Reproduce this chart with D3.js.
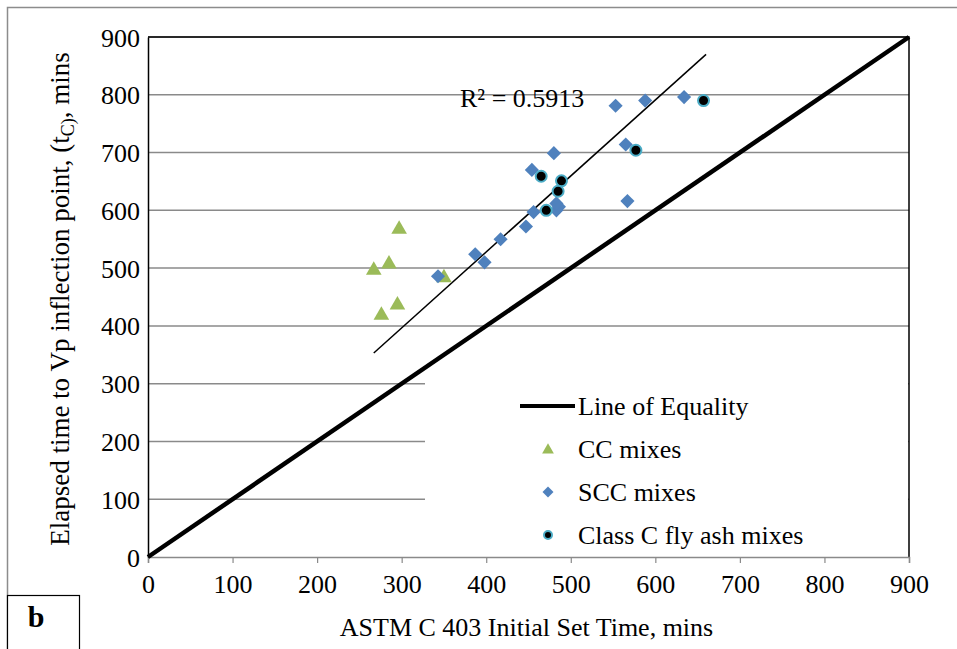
<!DOCTYPE html>
<html>
<head>
<meta charset="utf-8">
<script src="https://cdn.jsdelivr.net/npm/d3@7"></script>
<style>
  body { margin: 0; background: #fff; }
  svg text { font-family: "Liberation Serif", "Times New Roman", serif; }
</style>
</head>
<body>
<svg id="chart" width="957" height="649"></svg>
<script>
// values
var ccX = [267, 285, 297, 276, 295, 350];
var ccY = [498, 509, 569, 420, 438, 485];

var sccX = [343, 387, 398, 417, 447, 456, 483, 486, 483, 480, 454, 553, 588, 634, 565, 567];
var sccY = [486, 524, 510, 550, 572, 597, 600, 606, 612, 699, 670, 781, 790, 796, 714, 616];

var flyX = [465, 489, 485, 471, 577, 657];
var flyY = [659, 651, 633, 600, 704, 790];

var trendX = [267, 660];
var trendY = [353, 870];

var ticks = [0, 100, 200, 300, 400, 500, 600, 700, 800, 900];
var rSquared = "R² = 0.5913";

var svg = d3.select("#chart"),
    margin = { top: 37, right: 48, bottom: 92, left: 148 },
    iwidth = +svg.attr("width") - margin.left - margin.right,
    iheight = +svg.attr("height") - margin.top - margin.bottom;

// outer frame + panel label box
svg.append("rect")
  .attr("x", 7.5).attr("y", 7.5)
  .attr("width", 960).attr("height", 700)
  .style("fill", "none").style("stroke", "#8c8c8c").style("stroke-width", 1.5);

svg.append("rect")
  .attr("x", 7.5).attr("y", 595.5)
  .attr("width", 72).attr("height", 70)
  .style("fill", "#fff").style("stroke", "#000").style("stroke-width", 1.2);
svg.append("text")
  .attr("x", 36).attr("y", 627)
  .style("font-size", "30px").style("font-weight", "bold")
  .attr("text-anchor", "middle")
  .text("b");

var g = svg.append("g").attr("transform", "translate(" + margin.left + "," + margin.top + ")");

var x = d3.scaleLinear().domain([0, 900]).range([0, iwidth]);
var y = d3.scaleLinear().domain([0, 900]).range([iheight, 0]);

// gridlines
g.append("g")
  .selectAll("line")
  .data(ticks.slice(1))
  .enter().append("line")
    .attr("x1", 0).attr("x2", iwidth)
    .attr("y1", d => y(d)).attr("y2", d => y(d))
    .style("stroke", "#8a8a8a").style("stroke-width", 1.5);

// plot border (top/right black)
g.append("path")
  .attr("d", "M0,0H" + iwidth + "V" + iheight)
  .style("fill", "none").style("stroke", "#000").style("stroke-width", 1.5);

// axes
var xAxis = g.append("g")
  .attr("transform", "translate(0," + iheight + ")")
  .call(d3.axisBottom(x).tickValues(ticks).tickSize(6).tickFormat(d3.format("d")));
xAxis.select(".domain").style("stroke", "#8a8a8a").style("stroke-width", 1.5);
xAxis.selectAll(".tick line").style("stroke", "#8a8a8a").style("stroke-width", 1.2);
xAxis.selectAll("text")
  .style("font-size", "26px").style("fill", "#000")
  .attr("dy", null).attr("y", 36);

var yAxis = g.append("g")
  .call(d3.axisLeft(y).tickValues(ticks).tickSize(0).tickFormat(d3.format("d")));
yAxis.select(".domain").style("stroke", "#000").style("stroke-width", 1.5);
yAxis.selectAll("text")
  .style("font-size", "26px").style("fill", "#000")
  .attr("x", -8).attr("dy", "0.35em");

// legend box covers the gridlines under it
g.append("rect")
  .attr("x", 277).attr("y", 343)
  .attr("width", iwidth - 278).attr("height", iheight - 344)
  .style("fill", "#fff");

// line of equality
g.append("line")
  .attr("x1", x(0)).attr("y1", y(0))
  .attr("x2", x(900)).attr("y2", y(900))
  .style("stroke", "#000").style("stroke-width", 4.5);

// trend line
g.append("line")
  .attr("x1", x(trendX[0])).attr("y1", y(trendY[0]))
  .attr("x2", x(trendX[1])).attr("y2", y(trendY[1]))
  .style("stroke", "#000").style("stroke-width", 1.5);

g.append("text")
  .attr("x", x(369)).attr("y", y(778))
  .style("font-size", "26px")
  .text(rSquared);

// markers
var tri = d3.symbol().type(d3.symbolTriangle).size(105);
var dia = d3.symbol().type(d3.symbolSquare).size(100);

var cc = ccX.map((v, i) => ({ x: v, y: ccY[i] }));
var scc = sccX.map((v, i) => ({ x: v, y: sccY[i] }));
var fly = flyX.map((v, i) => ({ x: v, y: flyY[i] }));

g.append("g").selectAll("path")
  .data(cc)
  .enter().append("path")
    .attr("d", tri)
    .attr("transform", d => "translate(" + x(d.x) + "," + (y(d.y) + 1) + ")")
    .style("fill", "#9bbb59");

g.append("g").selectAll("path")
  .data(scc)
  .enter().append("path")
    .attr("d", dia)
    .attr("transform", d => "translate(" + x(d.x) + "," + y(d.y) + ") rotate(45)")
    .style("fill", "#4f81bd");

g.append("g").selectAll("circle")
  .data(fly)
  .enter().append("circle")
    .attr("cx", d => x(d.x)).attr("cy", d => y(d.y))
    .attr("r", 5.5)
    .style("fill", "#000").style("stroke", "#4bacc6").style("stroke-width", 2);

// legend
var legendItems = ["Line of Equality", "CC mixes", "SCC mixes", "Class C fly ash mixes"];
var legend = g.append("g")
  .selectAll("g")
  .data(legendItems)
  .enter().append("g")
    .attr("transform", (d, i) => "translate(0," + (369 + i * 43) + ")");

legend.append("text")
  .attr("x", 430).attr("dy", "0.35em")
  .style("font-size", "26px")
  .text(d => d);

legend.filter((d, i) => i == 0).append("line")
  .attr("x1", 372).attr("x2", 427)
  .style("stroke", "#000").style("stroke-width", 4);
legend.filter((d, i) => i == 1).append("path")
  .attr("d", d3.symbol().type(d3.symbolTriangle).size(60))
  .attr("transform", "translate(400,1)")
  .style("fill", "#9bbb59");
legend.filter((d, i) => i == 2).append("path")
  .attr("d", d3.symbol().type(d3.symbolSquare).size(60))
  .attr("transform", "translate(400,0) rotate(45)")
  .style("fill", "#4f81bd");
legend.filter((d, i) => i == 3).append("circle")
  .attr("cx", 400).attr("r", 4)
  .style("fill", "#000").style("stroke", "#4bacc6").style("stroke-width", 2);

// axis titles
svg.append("text")
  .attr("x", margin.left + iwidth / 2 - 2).attr("y", 636)
  .attr("text-anchor", "middle")
  .style("font-size", "26px")
  .text("ASTM C 403 Initial Set Time, mins");

var yt = svg.append("text")
  .attr("transform", "translate(69," + (margin.top + iheight / 2 + 2) + ") rotate(-90)")
  .attr("text-anchor", "middle")
  .style("font-size", "27px");
yt.append("tspan").text("Elapsed time to Vp inflection point, (t");
yt.append("tspan").attr("dy", 5).style("font-size", "18px").text("C)");
yt.append("tspan").attr("dy", -5).text(", mins");
</script>
</body>
</html>
